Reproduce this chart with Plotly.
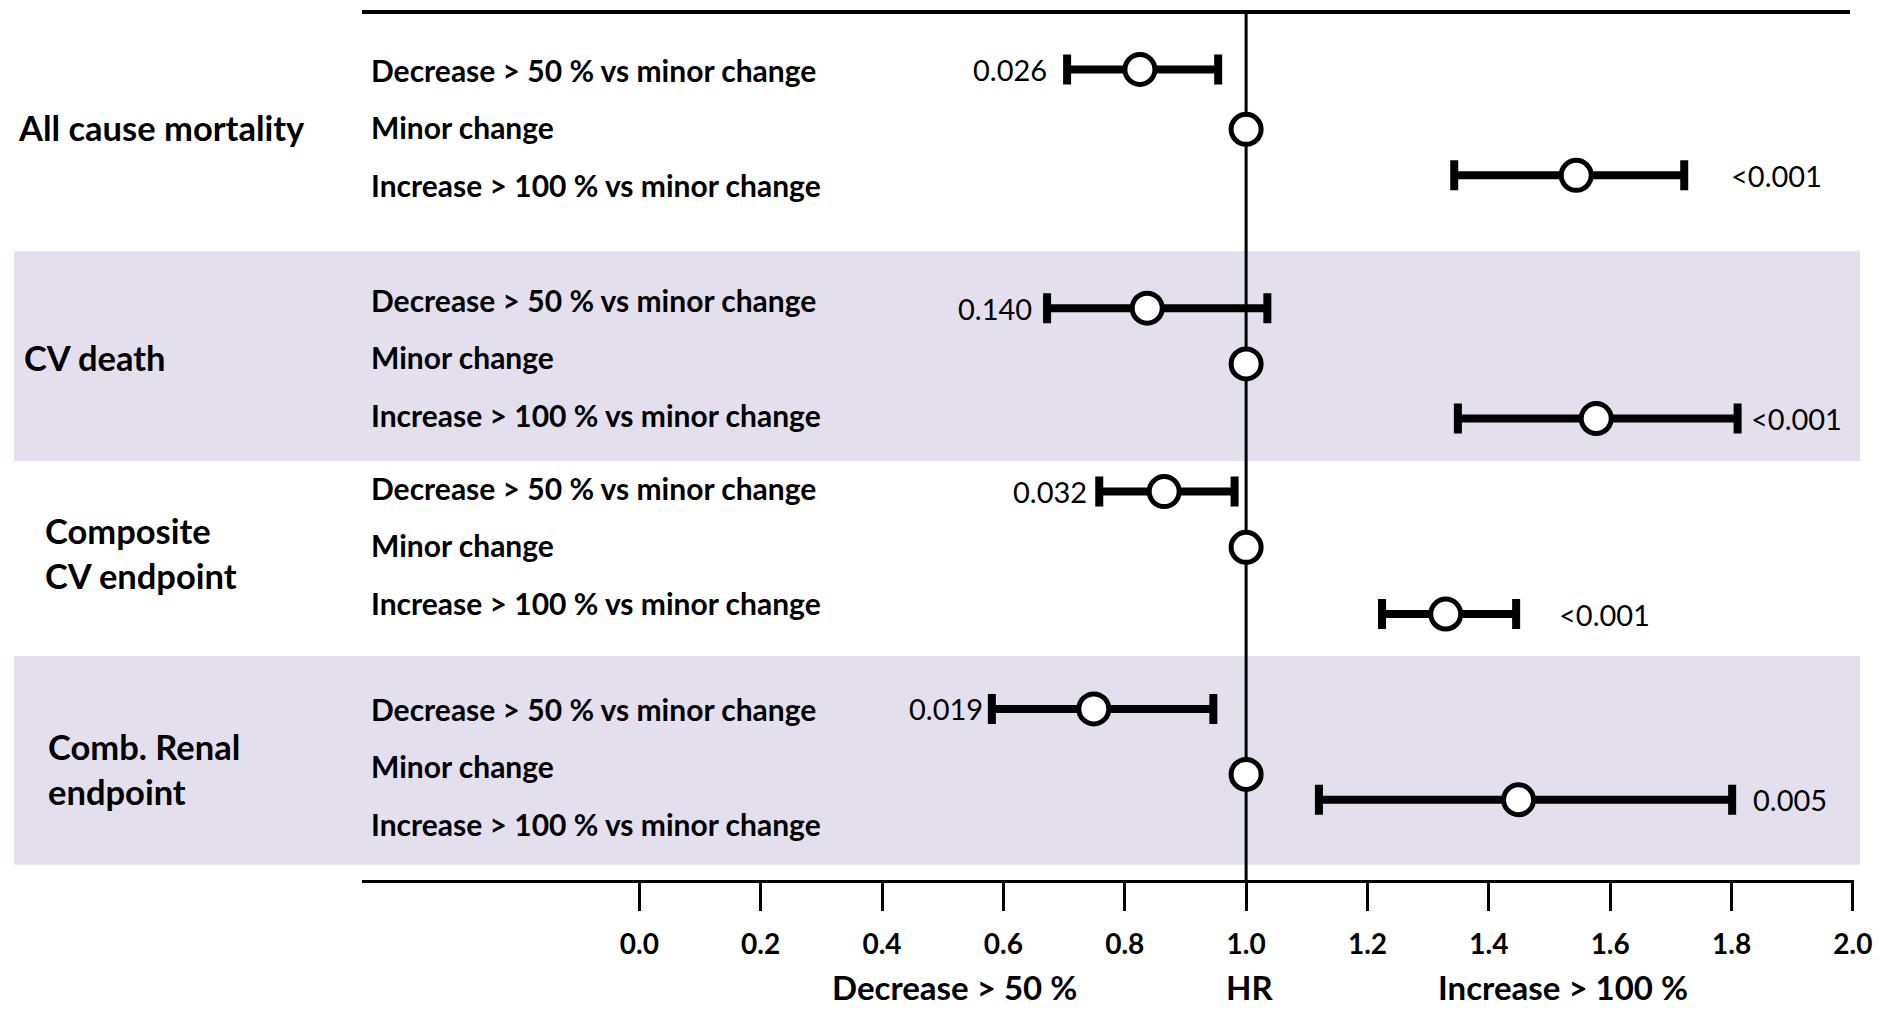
import plotly.graph_objects as go

# ---------------- data ----------------
groups = ["All cause mortality", "CV death", "Composite<br>CV endpoint", "Comb. Renal<br>endpoint"]
row_labels = ["Decrease > 50 % vs minor change", "Minor change", "Increase > 100 % vs minor change"]

hr_dec = [0.825, 0.837, 0.865, 0.749]
lo_dec = [0.705, 0.672, 0.758, 0.581]
hi_dec = [0.954, 1.035, 0.981, 0.946]
p_dec = ["0.026", "0.140", "0.032", "0.019"]

hr_minor = [1.0, 1.0, 1.0, 1.0]

hr_inc = [1.544, 1.577, 1.329, 1.449]
lo_inc = [1.343, 1.349, 1.224, 1.120]
hi_inc = [1.722, 1.810, 1.445, 1.801]
p_inc = ["<0.001", "<0.001", "<0.001", "0.005"]

x_ticks = [0.0, 0.2, 0.4, 0.6, 0.8, 1.0, 1.2, 1.4, 1.6, 1.8, 2.0]
x_tick_text = ["0.0", "0.2", "0.4", "0.6", "0.8", "1.0", "1.2", "1.4", "1.6", "1.8", "2.0"]
axis_titles = ["Decrease > 50 %", "HR", "Increase > 100 %"]

# ---------------- layout constants ----------------
W, H = 1878, 1009
L, R, T, B = 362, 24, 12, 129
PLOT_W = W - L - R
PLOT_H = H - T - B
PX_PER_UNIT = 606.8
X0 = -0.457
X_RANGE = [X0, X0 + PLOT_W / PX_PER_UNIT]
ROW_PX = 57.5
Y_MAX = PLOT_H / ROW_PX

group_top = [1.0, 5.0, 8.27, 12.12]
group_label_shift = [0, 0, 0.14, 0.05]
point_shift = [[0, 0.04, -0.16], [0.15, 0.12, 0.07], [0.07, 0.04, 0.20], [0, 0.14, -0.42]]
group_label_x_px = [16, 22, 43, 46]
row_label_x_px = 369
p_gap_dec = [18, 13, 10, 7]
p_gap_inc = [45, 11, 41, 19]
bands = [(4.16, 7.81), (11.2, 14.83)]
title_x = [0.52, 1.005, 1.522]
BAND_COLOR = "#E4DFEC"
FONT = "Lato, Liberation Sans, sans-serif"


def px_to_paper_x(px):
    return (px - L) / PLOT_W


def unit_to_paper_y(u):
    return 1 - u / Y_MAX


fig = go.Figure()

# shaded bands
for b0, b1 in bands:
    fig.add_shape(type="rect", xref="paper", yref="paper",
                  x0=px_to_paper_x(14), x1=px_to_paper_x(1860),
                  y0=unit_to_paper_y(b1), y1=unit_to_paper_y(b0),
                  fillcolor=BAND_COLOR, line_width=0, layer="below")

# reference line at HR = 1
fig.add_shape(type="line", xref="x", yref="paper", x0=1.0, x1=1.0, y0=0, y1=1,
              line=dict(color="black", width=3), layer="below")
# top line
fig.add_shape(type="line", xref="paper", yref="paper", x0=0, x1=px_to_paper_x(1850), y0=1, y1=1,
              line=dict(color="black", width=4))

marker = dict(symbol="circle", color="white", size=30, line=dict(color="black", width=5))


def ypos(r):
    return [group_top[g] + r + point_shift[g][r] for g in range(len(groups))]


fig.add_trace(go.Scatter(
    x=hr_dec, y=ypos(0), mode="markers", marker=marker,
    error_x=dict(type="data", symmetric=False,
                 array=[h - m for h, m in zip(hi_dec, hr_dec)],
                 arrayminus=[m - lo for m, lo in zip(hr_dec, lo_dec)],
                 color="black", thickness=8, width=15),
    hoverinfo="skip", showlegend=False))
fig.add_trace(go.Scatter(
    x=hr_minor, y=ypos(1), mode="markers", marker=marker,
    hoverinfo="skip", showlegend=False))
fig.add_trace(go.Scatter(
    x=hr_inc, y=ypos(2), mode="markers", marker=marker,
    error_x=dict(type="data", symmetric=False,
                 array=[h - m for h, m in zip(hi_inc, hr_inc)],
                 arrayminus=[m - lo for m, lo in zip(hr_inc, lo_inc)],
                 color="black", thickness=8, width=15),
    hoverinfo="skip", showlegend=False))

ann = []
# p values
yd, yi = ypos(0), ypos(2)
for g in range(len(groups)):
    ann.append(dict(x=lo_dec[g], y=yd[g], xref="x", yref="y", text=p_dec[g], showarrow=False,
                    xanchor="right", xshift=-p_gap_dec[g],
                    font=dict(family=FONT, size=29, color="black")))
    ann.append(dict(x=hi_inc[g], y=yi[g], xref="x", yref="y", text=p_inc[g], showarrow=False,
                    xanchor="left", xshift=p_gap_inc[g],
                    font=dict(family=FONT, size=29, color="black")))

# row labels
for g in range(len(groups)):
    for r, lab in enumerate(row_labels):
        ann.append(dict(x=px_to_paper_x(row_label_x_px), y=group_top[g] + r, xref="paper", yref="y",
                        text=lab, showarrow=False, xanchor="left",
                        font=dict(family=FONT, size=30, color="black", weight="bold")))

# group labels (each line placed separately)
for g, name in enumerate(groups):
    lines = name.split("<br>")
    n = len(lines)
    for i, ln in enumerate(lines):
        off = (i - (n - 1) / 2) * 0.79
        ann.append(dict(x=px_to_paper_x(group_label_x_px[g]),
                        y=group_top[g] + 1 + group_label_shift[g] + off,
                        xref="paper", yref="y", text=ln, showarrow=False, xanchor="left",
                        font=dict(family=FONT, size=34.5, color="black", weight="bold")))

# axis titles
for t, xv in zip(axis_titles, title_x):
    ann.append(dict(x=xv, y=0, xref="x", yref="paper", yanchor="middle", yshift=-107,
                    text=t, showarrow=False,
                    font=dict(family=FONT, size=33, color="black", weight="bold")))

fig.update_layout(
    width=W, height=H,
    margin=dict(l=L, r=R, t=T, b=B, pad=0, autoexpand=False),
    paper_bgcolor="white", plot_bgcolor="rgba(0,0,0,0)",
    annotations=ann,
    xaxis=dict(range=X_RANGE, showgrid=False, zeroline=False, showline=True,
               linecolor="black", linewidth=3, ticks="outside", ticklen=28, tickwidth=3,
               tickcolor="black", tickvals=x_ticks, ticktext=x_tick_text,
               ticklabelstandoff=9,
               tickfont=dict(family=FONT, size=28, color="black", weight="bold")),
    yaxis=dict(range=[Y_MAX, 0], visible=False, showgrid=False, zeroline=False),
    showlegend=False,
)

fig.write_html("out.html", config={"displayModeBar": False},
               post_script="document.body.style.margin='0';document.body.style.overflow='hidden';")
